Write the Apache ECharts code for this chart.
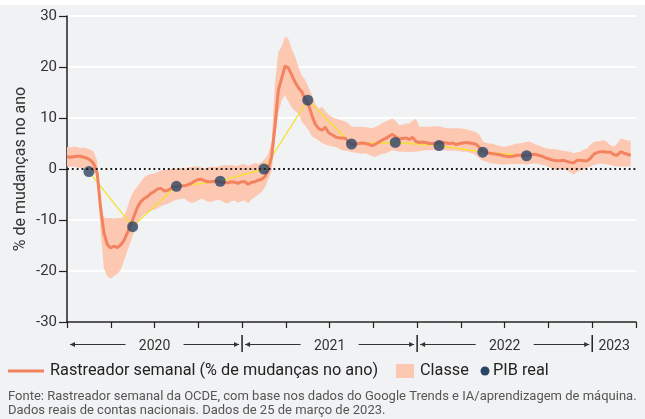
<!DOCTYPE html>
<html><head><meta charset="utf-8">
<script src="https://cdn.jsdelivr.net/npm/echarts@6/dist/echarts.min.js"></script>
<style>html,body{margin:0;padding:0;background:#f1f2f4;}#c{width:645px;height:419px;}</style>
</head><body><div id="c"></div>
<script>
// ---- data ----
const startYear = 2020;
const quarterCount = 13;               // Q1 2020 .. Q1 2023
const weeksPerQuarter = 91.3125 / 7;
// weekly tracker (% y/y), first week = start of Jan 2020
const trackerValues = [
 2.4, 2.3, 2.4, 2.5, 2.5, 2.3, 2.1, 1.7, 1.0, -0.8,
 -7.5, -12.5, -14.8, -15.5, -15.1, -15.4, -14.9, -14.0, -12.5, -11.0,
 -9.2, -7.5, -6.4, -5.8, -5.4, -4.8, -4.4, -3.9, -3.8, -4.3,
 -4.2, -3.8, -3.5, -3.4, -3.3, -3.3, -3.1, -2.8, -2.4, -2.1,
 -2.0, -2.3, -2.5, -2.5, -2.4, -2.4, -2.6, -2.7, -2.7, -2.5,
 -2.6, -2.8, -2.5, -2.5, -3.0, -2.6, -2.5, -2.2, -2.0, -1.5,
 -0.1, 2.5, 8.5, 15.5, 17.8, 20.2, 19.8, 18.4, 17.0, 15.9,
 15.1, 13.7, 12.6, 10.5, 8.8, 7.9, 7.6, 8.2, 7.1, 6.7,
 6.3, 6.1, 6.1, 6.0, 5.2, 4.8, 4.9, 5.0, 5.1, 5.0,
 4.8, 4.6, 4.9, 5.3, 5.7, 6.0, 6.4, 6.8, 6.3, 5.9,
 6.0, 6.1, 5.8, 6.2, 5.4, 5.2, 5.3, 5.2, 5.0, 5.0,
 5.0, 5.1, 5.2, 5.1, 5.0, 5.1, 4.8, 5.0, 5.1, 5.2,
 5.1, 5.0, 4.8, 4.2, 3.4, 3.2, 3.1, 3.0, 2.9, 2.8,
 2.6, 2.5, 2.4, 2.5, 2.7, 2.7, 2.6, 2.6, 2.8, 2.9,
 2.8, 2.6, 2.4, 2.1, 1.9, 1.7, 1.6, 1.6, 1.7, 1.5,
 1.3, 1.2, 1.7, 1.7, 1.6, 1.6, 2.1, 2.9, 3.2, 3.4,
 3.4, 3.3, 3.3, 2.8, 2.7, 3.4, 3.1, 2.9, 2.7
];
const bandUpper = [
 4.3, 4.2, 4.4, 4.3, 4.1, 4.2, 4.0, 3.8, 3.4, 1.5,
 -8.0, -9.5, -9.6, -9.6, -9.7, -9.6, -9.6, -9.3, -7.5, -5.5,
 -4.2, -3.5, -2.5, -1.6, -1.2, -1.0, -0.9, -0.6, -0.3, -0.2,
 -0.1, 0.0, 0.1, 0.0, 0.2, 0.0, 0.3, 0.4, 0.5, 0.5,
 0.3, 0.1, 0.3, 0.5, 0.4, 0.5, 0.6, 0.8, 0.7, 0.8,
 0.6, 0.7, 0.9, 1.0, 0.6, 0.9, 1.2, 1.0, 1.3, 2.0,
 3.0, 5.5, 17.0, 23.0, 24.0, 26.0, 25.5, 23.5, 22.0, 20.0,
 18.3, 17.5, 16.0, 14.5, 12.8, 11.8, 12.2, 11.3, 10.7, 10.2,
 9.9, 9.7, 9.5, 9.3, 8.8, 8.3, 8.3, 8.3, 8.3, 8.2,
 8.1, 8.0, 8.3, 8.6, 9.0, 9.3, 9.6, 9.9, 9.4, 8.6,
 8.7, 8.9, 8.9, 9.5, 9.8, 8.3, 8.3, 8.3, 8.3, 8.4,
 8.4, 8.4, 8.2, 8.0, 8.0, 8.0, 8.0, 8.0, 7.9, 7.8,
 7.6, 7.4, 7.2, 6.6, 5.4, 5.1, 5.0, 4.9, 4.7, 4.5,
 4.4, 4.4, 4.6, 4.8, 5.0, 5.0, 5.2, 5.3, 5.4, 5.0,
 4.7, 4.5, 4.2, 4.0, 3.9, 3.9, 3.8, 3.7, 3.6, 3.5,
 3.4, 3.1, 3.3, 3.4, 3.8, 4.0, 4.8, 5.3, 5.4, 5.5,
 5.7, 5.3, 4.6, 4.4, 5.0, 6.0, 5.8, 5.6, 5.6
];
const bandLower = [
 0.5, 0.4, 0.5, 0.3, 0.2, 0.1, -0.2, -0.4, -0.6, -2.0,
 -12.0, -19.5, -21.0, -21.5, -21.0, -20.6, -19.8, -18.0, -16.0, -14.2,
 -12.3, -10.5, -9.5, -8.8, -8.5, -8.2, -8.0, -7.7, -7.3, -7.0,
 -6.8, -6.5, -6.2, -6.0, -5.9, -5.8, -6.3, -6.6, -6.5, -6.2,
 -5.8, -6.1, -6.4, -6.4, -6.2, -6.1, -6.2, -6.6, -6.7, -6.3,
 -6.2, -6.6, -6.3, -6.2, -6.7, -6.0, -5.5, -5.0, -4.5, -3.6,
 -2.0, -0.5, 6.0, 11.0, 13.5, 14.4, 13.2, 12.0, 11.3, 10.9,
 9.2, 8.5, 7.6, 6.4, 6.0, 5.6, 5.1, 4.8, 4.6, 4.4,
 4.3, 4.0, 3.7, 3.6, 3.5, 3.3, 3.2, 3.1, 3.0, 3.1,
 2.8, 2.5, 2.4, 2.7, 3.0, 3.1, 3.4, 3.7, 3.6, 3.4,
 3.4, 3.4, 3.3, 3.4, 3.4, 3.5, 3.6, 3.7, 3.7, 3.7,
 3.7, 3.7, 3.7, 3.7, 3.6, 3.6, 3.6, 3.5, 3.4, 3.4,
 3.2, 3.0, 2.6, 2.0, 1.6, 1.4, 1.2, 1.1, 1.0, 0.9,
 0.9, 0.9, 1.0, 1.0, 1.0, 1.0, 1.0, 0.9, 1.0, 1.1,
 1.1, 0.9, 0.8, 0.6, 0.2, 0.0, -0.2, -0.1, 0.0, -0.3,
 -0.7, -1.1, -0.6, -0.3, -0.1, 0.3, 0.5, 0.8, 1.0, 1.1,
 1.0, 0.9, 0.8, 0.6, 0.5, 0.5, 0.5, 0.5, 0.6
];
// real GDP, quarterly (Q1 2020 .. Q3 2022)
const pibReal = [-0.5, -11.3, -3.4, -2.4, 0.0, 13.5, 4.9, 5.2, 4.6, 3.3, 2.6];
const yearLabels = ['2020', '2021', '2022', '2023'];
const yTicks = [-30, -20, -10, 0, 10, 20, 30];

const seriesNames = {
  tracker: 'Rastreador semanal (% de mudanças no ano)',
  band: 'Classe',
  pib: 'PIB real'
};
const footnote = [
  'Fonte: Rastreador semanal da OCDE, com base nos dados do Google Trends e IA/aprendizagem de máquina.',
  'Dados reais de contas nacionais. Dados de 25 de março de 2023.'
];

// ---- styles ----
const C_LINE = '#f3825f', C_BAND = '#fcc8b2', C_DOT = '#2b4567', C_YEL = '#f3e22a', C_AX = '#222';
const FONT = 'Roboto';

const weekX = i => i / weeksPerQuarter;
const trackerData = trackerValues.map((v, i) => [weekX(i), v]);
const pibData = pibReal.map((v, q) => [q + 0.5, v]);

const chart = echarts.init(document.getElementById('c'), null, {renderer: 'canvas'});
const option = {
  backgroundColor: '#f1f2f4',
  animation: false,
  textStyle: {fontFamily: FONT},
  grid: {left: 67, right: 9, top: 16, bottom: 97, containLabel: false},
  xAxis: {
    type: 'value', min: 0, max: quarterCount, interval: 1,
    axisLine: {show: true, onZero: false, lineStyle: {color: C_AX, width: 1.5}},
    axisTick: {show: true, length: 6, lineStyle: {color: C_AX, width: 1.2}},
    axisLabel: {show: false}, splitLine: {show: false}
  },
  yAxis: {
    type: 'value', min: yTicks[0], max: yTicks[yTicks.length - 1], interval: 10,
    name: '% de mudanças no ano', nameLocation: 'middle', nameGap: 38, nameRotate: 90,
    nameMoveOverlap: false,
    nameTextStyle: {fontSize: 16, color: '#333', fontFamily: FONT},
    axisLine: {show: true, lineStyle: {color: C_AX, width: 1.5}},
    axisTick: {show: true, length: 8, lineStyle: {color: C_AX, width: 1.2}},
    axisLabel: {fontSize: 15, color: '#333', margin: 10, fontFamily: FONT},
    splitLine: {show: true, lineStyle: {color: '#ffffff', width: 2}}
  },
  series: [
    {
      name: seriesNames.band, type: 'custom', z: 1, clip: true,
      data: [[0, 0]],
      renderItem: function (params, api) {
        const pts = [];
        for (let i = 0; i < bandUpper.length; i++) pts.push(api.coord([weekX(i), bandUpper[i]]));
        for (let i = bandLower.length - 1; i >= 0; i--) pts.push(api.coord([weekX(i), bandLower[i]]));
        return {type: 'polygon', shape: {points: pts}, style: {fill: C_BAND}};
      },
      silent: true
    },
    {
      name: 'pibLine', type: 'line', z: 2, data: pibData, symbol: 'none',
      lineStyle: {color: C_YEL, width: 1.3}, silent: true
    },
    {
      name: seriesNames.tracker, type: 'line', z: 3, data: trackerData, symbol: 'none',
      lineStyle: {color: C_LINE, width: 3}, silent: true,
      markLine: {
        silent: true, symbol: 'none', label: {show: false},
        lineStyle: {color: C_AX, width: 2, type: [2, 2.8]},
        data: [{yAxis: 0}]
      }
    },
    {
      name: seriesNames.pib, type: 'scatter', z: 4, data: pibData, symbol: 'circle', symbolSize: 11,
      itemStyle: {color: C_DOT}, silent: true
    }
  ]
};
chart.setOption(option);

// ---- year brackets, legend and notes (positions from the axis scale) ----
const px = v => chart.convertToPixel({xAxisIndex: 0}, v);
const yBottom = chart.convertToPixel({yAxisIndex: 0}, yTicks[0]);
const g = [];
g.push({type: 'rect', shape: {x: 0, y: 0, width: 645, height: 5}, style: {fill: '#fff'}, silent: true});
const arrowY = yBottom + 22.5, textY = yBottom + 24;
yearLabels.forEach((lab, k) => {
  const q0 = k * 4, q1 = Math.min(q0 + 4, quarterCount);
  const x0 = px(q0), x1 = px(q1), xc = (x0 + x1) / 2;
  if (k > 0) g.push({type: 'line', shape: {x1: x0, y1: yBottom + 13, x2: x0, y2: yBottom + 30},
    style: {stroke: C_AX, lineWidth: 1.5}, silent: true});
  g.push({type: 'text', x: xc, y: textY, style: {text: lab, fontSize: 14, fontFamily: FONT, fill: '#333', align: 'center', verticalAlign: 'middle'}, silent: true});
  if (q1 - q0 >= 4) {
    const a = x0 + 3, b = x1 - 3, gap = 29;
    g.push({type: 'line', shape: {x1: a, y1: arrowY, x2: xc - gap, y2: arrowY}, style: {stroke: '#333', lineWidth: 1}, silent: true});
    g.push({type: 'line', shape: {x1: xc + gap, y1: arrowY, x2: b, y2: arrowY}, style: {stroke: '#333', lineWidth: 1}, silent: true});
    g.push({type: 'polygon', shape: {points: [[a, arrowY], [a + 5, arrowY - 2.5], [a + 5, arrowY + 2.5]]}, style: {fill: '#333'}, silent: true});
    g.push({type: 'polygon', shape: {points: [[b, arrowY], [b - 5, arrowY - 2.5], [b - 5, arrowY + 2.5]]}, style: {fill: '#333'}, silent: true});
  }
});
// legend
const legY = 371;
g.push({type: 'line', shape: {x1: 8, y1: legY, x2: 44, y2: legY}, style: {stroke: C_LINE, lineWidth: 3}, silent: true});
g.push({type: 'text', x: 50, y: legY, style: {text: seriesNames.tracker, fontSize: 16.3, fontFamily: FONT, fill: '#222', verticalAlign: 'middle'}, silent: true});
g.push({type: 'rect', shape: {x: 396, y: legY - 7, width: 18, height: 14}, style: {fill: C_BAND}, silent: true});
g.push({type: 'text', x: 420, y: legY, style: {text: seriesNames.band, fontSize: 16.3, fontFamily: FONT, fill: '#222', verticalAlign: 'middle'}, silent: true});
g.push({type: 'circle', shape: {cx: 485, cy: legY, r: 4.5}, style: {fill: C_DOT}, silent: true});
g.push({type: 'text', x: 493, y: legY, style: {text: seriesNames.pib, fontSize: 16.3, fontFamily: FONT, fill: '#222', verticalAlign: 'middle'}, silent: true});
footnote.forEach((t, i) => {
  g.push({type: 'text', x: 8, y: 397 + i * 14, style: {text: t, fontSize: 13, fontFamily: FONT, fill: '#555', verticalAlign: 'middle'}, silent: true});
});
chart.setOption({graphic: g});
</script></body></html>
